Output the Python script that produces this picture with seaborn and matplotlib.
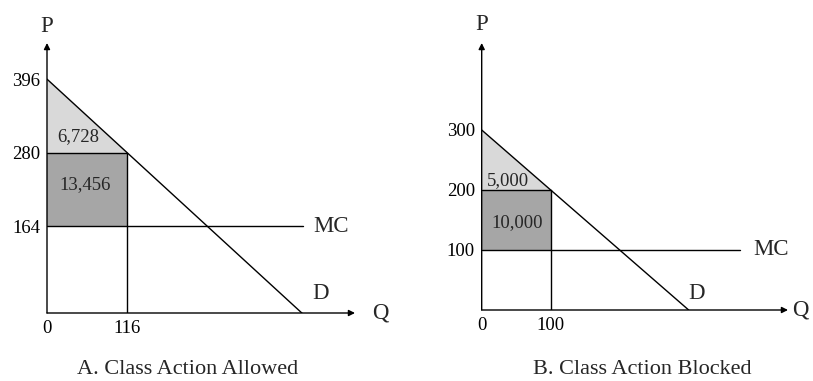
import numpy as np
import pandas as pd
import seaborn as sns
import matplotlib.pyplot as plt

sns.set_theme(style="white")
plt.rcParams['font.family'] = ['Liberation Serif', 'DejaVu Serif']

# panel data: choke price, monopoly price, marginal cost, monopoly quantity
titles = ["A. Class Action Allowed", "B. Class Action Blocked"]
p_max = [396, 300]
p_mono = [280, 200]
mc = [164, 100]
q_mono = [116, 100]
dwl_labels = ["6,728", "5,000"]
profit_labels = ["13,456", "10,000"]
mc_end = [370, 374]

light = "#d9d9d9"
dark = "#a6a6a6"
lw = 1.0

fig = plt.figure(figsize=(8.13, 3.81), dpi=100)
# axes rectangles (figure fraction) and data limits
rects = [[47/813, 1-313/381, 308/813, 270/381],
         [481.7/813, 1-310/381, 306.3/813, 267/381]]
xlims = [(0, 446), (0, 444)]
ylims = [(27, 453), (0, 445)]
# label spots (data coords)
mc_lab = [385, 393]
d_lab = [(396, 58), (312, 28)]
dwl_pos = [(45, 306), (38, 215)]
prof_pos = [(55, 229), (51, 145)]
q_lab_x = [1.055, 1.012]
p_lab_y = [1.06, 1.07]
title_x = [188/813, 642/813]

for i in range(2):
    ax = fig.add_axes(rects[i])
    ax.set_xlim(*xlims[i])
    ax.set_ylim(*ylims[i])
    y0 = ylims[i][0]
    slope = (p_max[i] - p_mono[i]) / q_mono[i]
    q_int = p_max[i] / slope

    # shaded areas
    ax.fill_between([0, q_mono[i]], [p_max[i], p_mono[i]], p_mono[i], color=light, lw=0)
    ax.fill_between([0, q_mono[i]], mc[i], p_mono[i], color=dark, lw=0)

    # demand and MC
    dem = pd.DataFrame({"Q": [0, q_int], "P": [p_max[i], 0]})
    sns.lineplot(data=dem, x="Q", y="P", color="black", lw=lw, ax=ax)
    mcd = pd.DataFrame({"Q": [0, mc_end[i]], "P": [mc[i], mc[i]]})
    sns.lineplot(data=mcd, x="Q", y="P", color="black", lw=lw, ax=ax)
    ax.plot([0, q_mono[i]], [p_mono[i], p_mono[i]], color="black", lw=lw)
    ax.plot([q_mono[i], q_mono[i]], [y0, p_mono[i]], color="black", lw=lw)

    # axes with arrows
    for s in ax.spines.values():
        s.set_visible(False)
    ax.annotate("", xy=(0, 1), xytext=(0, 0), xycoords="axes fraction",
                arrowprops=dict(arrowstyle="-|>", color="black", lw=lw,
                                mutation_scale=9, shrinkA=0, shrinkB=0))
    ax.annotate("", xy=(1, 0), xytext=(0, 0), xycoords="axes fraction",
                arrowprops=dict(arrowstyle="-|>", color="black", lw=lw,
                                mutation_scale=9, shrinkA=0, shrinkB=0))

    ax.set_yticks([p_max[i], p_mono[i], mc[i]])
    ax.set_yticklabels([str(p_max[i]), str(p_mono[i]), str(mc[i])])
    ax.set_xticks([0, q_mono[i]])
    ax.set_xticklabels(["0", str(q_mono[i])])
    ax.tick_params(length=0, labelsize=13.5, pad=5, colors="black")
    ax.set_xlabel("")
    ax.set_ylabel("")

    ax.text(mc_lab[i], mc[i], "MC", fontsize=16.5, va="center", ha="left")
    ax.text(*d_lab[i], "D", fontsize=16.5, va="center", ha="center")
    ax.text(q_lab_x[i], 0, "Q", transform=ax.transAxes, fontsize=16.5,
            va="center", ha="left", clip_on=False)
    ax.text(0, p_lab_y[i], "P", transform=ax.transAxes, fontsize=16.5,
            va="center", ha="center", clip_on=False)
    ax.text(*dwl_pos[i], dwl_labels[i], fontsize=13.5, va="center", ha="center")
    ax.text(*prof_pos[i], profit_labels[i], fontsize=13.5, va="center", ha="center")

    fig.text(title_x[i], 1 - 370/381, titles[i], fontsize=16,
             va="center", ha="center")

fig.savefig("out.png", dpi=100)
